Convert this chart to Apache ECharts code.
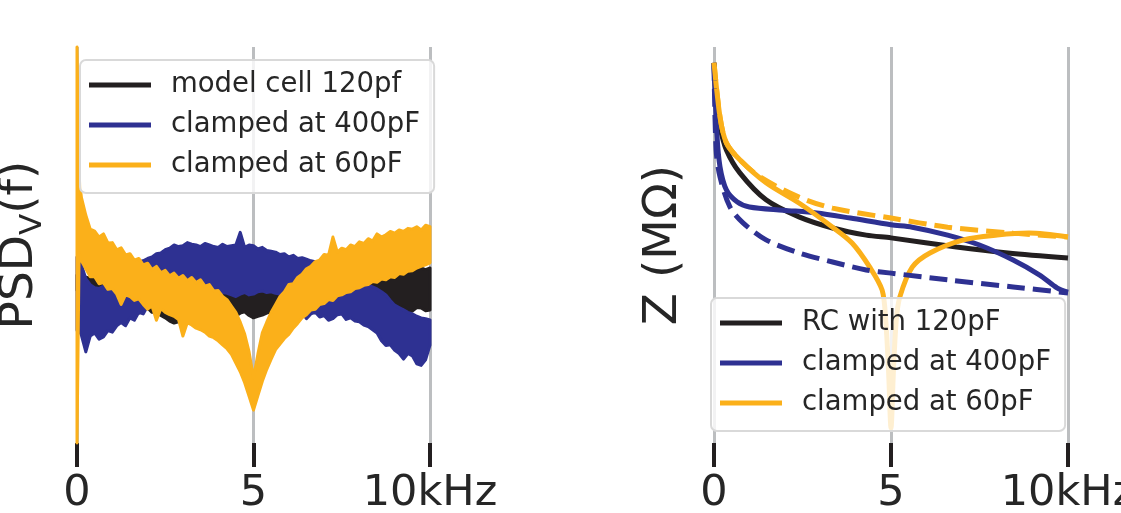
<!DOCTYPE html>
<html>
<head>
<meta charset="utf-8">
<script src="https://cdn.jsdelivr.net/npm/echarts@6/dist/echarts.min.js"></script>
<style>
  html, body { margin: 0; padding: 0; background: #fff; }
  #main { width: 1121px; height: 513px; }
</style>
</head>
<body>
<div id="main"></div>
<script>
// left panel: PSD bands, upper / lower edge of each noisy trace (arbitrary units)
var freqs = [0, 0.06, 0.125, 0.25, 0.375, 0.5, 0.625, 0.75, 0.875, 1.0,
             1.125, 1.25, 1.375, 1.5, 1.625, 1.75, 1.875, 2.0, 2.125, 2.25,
             2.375, 2.5, 2.625, 2.75, 2.875, 3.0, 3.125, 3.25, 3.375, 3.5,
             3.625, 3.75, 3.875, 4.0, 4.125, 4.25, 4.375, 4.5, 4.625, 4.75,
             4.875, 5.0, 5.125, 5.25, 5.375, 5.5, 5.625, 5.75, 5.875, 6.0,
             6.125, 6.25, 6.375, 6.5, 6.625, 6.75, 6.875, 7.0, 7.125, 7.25,
             7.375, 7.5, 7.625, 7.75, 7.875, 8.0, 8.125, 8.25, 8.375, 8.5,
             8.625, 8.75, 8.875, 9.0, 9.125, 9.25, 9.375, 9.5, 9.625, 9.75,
             9.875, 10.0];

var modelHi = [42.4, 42.4, 42.2, 41.9, 41.6, 41.2, 41.0, 40.7, 40.4, 40.2,
               40.0, 39.9, 39.6, 39.4, 39.6, 39.6, 39.2, 39.1, 39.4, 39.4,
               39.0, 38.9, 39.2, 39.1, 38.8, 38.6, 39.0, 38.9, 38.6, 38.6,
               38.5, 38.4, 38.6, 38.6, 38.4, 38.4, 38.2, 38.1, 38.4, 38.4,
               38.2, 38.1, 38.4, 38.4, 38.5, 38.6, 38.6, 38.6, 38.8, 38.9,
               39.0, 39.1, 39.0, 39.1, 39.4, 39.4, 39.4, 39.6, 39.8, 39.9,
               40.0, 40.2, 40.6, 40.4, 41.2, 40.9, 41.0, 41.2, 42.0, 41.9,
               41.8, 42.2, 43.0, 42.7, 42.6, 43.2, 43.8, 43.4, 44.0, 44.2,
               43.8, 44.2];
var modelLo = [38.6, 38.8, 39.1, 39.9, 39.0, 38.1, 37.2, 36.6, 36.0, 35.6,
               35.2, 34.6, 34.0, 33.6, 32.8, 32.8, 33.8, 34.1, 33.0, 33.1,
               32.2, 31.6, 30.8, 30.3, 30.6, 31.1, 31.8, 32.3, 33.0, 33.6,
               34.0, 34.6, 34.2, 33.6, 33.0, 32.8, 32.6, 32.1, 32.8, 33.1,
               32.2, 31.6, 32.0, 32.3, 32.8, 33.1, 33.4, 33.6, 33.0, 33.1,
               33.6, 33.3, 32.6, 32.8, 33.4, 33.6, 33.0, 33.1, 34.0, 33.8,
               33.2, 33.3, 34.0, 34.1, 33.4, 33.6, 34.4, 34.3, 33.6, 33.8,
               34.6, 34.6, 33.8, 33.6, 34.4, 34.3, 33.4, 33.3, 34.2, 34.1,
               33.4, 33.6];

var c400Hi = [47.0, 47.0, 45.0, 41.5, 40.0, 39.2, 39.0, 39.6, 40.2, 41.2,
              42.0, 43.2, 43.6, 44.8, 45.0, 45.8, 46.0, 46.6, 47.0, 47.8,
              48.0, 48.8, 49.2, 50.0, 49.6, 49.8, 50.6, 50.2, 50.0, 49.6,
              50.4, 50.0, 49.6, 49.4, 50.2, 49.6, 49.8, 50.0, 53.2, 49.4,
              50.0, 49.8, 49.0, 49.4, 48.6, 48.4, 48.2, 47.6, 47.8, 47.0,
              47.4, 46.6, 46.8, 46.4, 46.0, 45.8, 45.0, 44.8, 44.2, 43.8,
              43.2, 42.8, 42.4, 41.8, 41.4, 40.8, 40.4, 39.9, 39.4, 38.9,
              38.2, 37.4, 36.0, 34.8, 34.2, 33.6, 33.0, 32.6, 32.0, 31.6,
              31.4, 31.1];
var c400Lo = [28.5, 28.5, 27.2, 23.0, 27.0, 27.8, 26.2, 26.8, 28.4, 28.0,
              29.6, 30.4, 29.6, 31.6, 31.0, 33.0, 32.6, 34.6, 34.4, 36.4,
              36.6, 37.8, 37.6, 38.0, 38.2, 38.0, 38.4, 38.2, 38.4, 37.8,
              38.2, 38.0, 38.2, 37.6, 38.0, 37.8, 37.4, 37.0, 37.6, 38.0,
              37.4, 37.6, 38.2, 38.4, 38.0, 38.2, 37.8, 37.6, 37.2, 36.4,
              35.8, 34.6, 33.0, 31.4, 32.6, 33.0, 31.8, 32.2, 31.0, 31.4,
              32.4, 32.6, 31.2, 31.6, 30.8, 30.6, 29.8, 29.4, 28.6, 27.8,
              25.8, 24.6, 24.8, 23.4, 22.6, 21.2, 22.6, 22.0, 20.0, 19.6,
              21.0, 24.7];

var c60Hi = [100, 67.0, 62.0, 57.5, 54.0, 53.5, 52.0, 52.8, 50.5, 50.6,
             48.8, 49.3, 47.5, 47.8, 46.2, 46.6, 45.0, 45.4, 43.8, 44.6,
             43.0, 43.6, 42.2, 42.9, 41.6, 42.3, 41.0, 41.8, 40.5, 41.2,
             39.6, 40.0, 38.4, 38.5, 37.0, 36.2, 34.6, 33.0, 30.5, 27.5,
             23.0, 16.5, 22.5, 27.8, 30.5, 33.0, 35.0, 37.0, 38.2, 40.0,
             40.2, 41.8, 42.6, 44.0, 44.6, 45.8, 46.2, 47.6, 47.4, 52.0,
             48.2, 49.2, 48.8, 50.0, 49.6, 50.8, 50.4, 51.6, 51.0, 52.8,
             52.0, 52.6, 53.4, 53.0, 53.8, 53.4, 54.2, 54.0, 54.6, 53.8,
             55.0, 54.6];
var c60Lo = [0, 48.0, 46.0, 44.0, 42.0, 42.0, 40.2, 40.5, 38.8, 39.0,
             37.6, 35.0, 37.4, 37.0, 36.0, 36.4, 35.0, 33.8, 34.6, 31.0,
             34.0, 33.0, 32.4, 32.0, 31.2, 27.0, 30.4, 29.8, 29.0, 28.6,
             28.0, 27.0, 26.6, 25.8, 24.8, 23.8, 22.4, 20.2, 18.0, 15.2,
             11.8, 8.3, 12.0, 15.6, 18.6, 21.2, 23.6, 25.0, 26.4, 27.4,
             29.0, 30.2, 31.6, 32.4, 33.6, 33.8, 35.0, 35.2, 36.2, 36.0,
             37.2, 37.4, 38.0, 38.2, 39.0, 39.2, 39.8, 40.0, 40.8, 40.6,
             41.4, 41.2, 42.0, 41.8, 42.8, 42.6, 43.4, 43.5, 44.2, 44.6,
             45.0, 45.5];

// right panel: impedance curves [kHz, value]
var zRC120 = [[0, 96.0], [0.06, 86.6], [0.17, 79.8], [0.35, 74.0], [0.73, 68.2], [1.47, 61.4], [2.4, 57.1], [3.35, 54.3],
              [4.3, 52.5], [5, 51.8], [6.85, 49.5], [8.3, 48.0], [10, 46.7]];
var z400 = [[0, 96.0], [0.08, 78.3], [0.17, 69.7], [0.35, 63.9], [0.65, 60.9], [1.0, 59.6], [1.95, 58.8], [2.9, 58.1],
            [3.85, 56.8], [5, 55.1], [5.6, 54.5], [6.6, 52.5], [7.5, 50.0], [8.45, 46.2], [9.2, 42.4], [9.7, 39.1], [10, 38.1]];
var z400rc = [[0, 96.0], [0.06, 74.0], [0.17, 67.2], [0.45, 59.6], [0.82, 55.6], [1.47, 51.3], [2.4, 48.0], [3.35, 45.7],
              [4.3, 43.7], [5, 42.9], [6.6, 41.2], [8.45, 39.4], [10, 37.9]];
var z60 = [[0, 96.0], [0.17, 82.3], [0.35, 75.8], [0.73, 71.5], [1.47, 65.7], [2.4, 60.6], [3.35, 54.5], [3.9, 50.5],
           [4.4, 44.4], [4.75, 38.6], [4.85, 31.1], [4.93, 18.5], [5.0, 3.8], [5.07, 18.5], [5.15, 31.1], [5.25, 36.9],
           [5.6, 44.4], [6.1, 48.0], [7.05, 51.3], [8, 52.5], [8.9, 53.0], [10, 52.0]];
var z60rc = [[0, 96.0], [0.17, 82.3], [0.35, 75.8], [0.73, 71.5], [1.3, 67.2], [2.4, 62.1], [3.35, 59.3], [5, 56.8],
             [6.6, 54.5], [8.45, 53.0], [10, 52.0]];

var tickLabels = {0: '0', 5: '5', 10: '10kHz'};

var BLACK = '#231f20', BLUE = '#2e3192', ORANGE = '#fbb01a', GRIDC = '#bcbec0', TEXT = '#262626';
var FONT = 'DejaVu Sans';

function band(hi, lo, color) {
  return function (params, api) {
    var pts = [];
    for (var i = 0; i < freqs.length; i++) pts.push(api.coord([freqs[i], hi[i]]));
    for (var j = freqs.length - 1; j >= 0; j--) pts.push(api.coord([freqs[j], lo[j]]));
    return {
      type: 'polygon',
      shape: { points: pts },
      style: { fill: color, stroke: color, lineWidth: 3, lineJoin: 'round' }
    };
  };
}

function xAxisFor(gi) {
  return {
    type: 'value', gridIndex: gi, min: 0, max: 10, interval: 5, position: 'bottom',
    axisLine: { show: false },
    axisTick: { show: true, inside: false, length: 24, lineStyle: { color: BLACK, width: 4 } },
    splitLine: { show: true, lineStyle: { color: GRIDC, width: 3 } },
    axisLabel: { margin: 29, fontSize: 43, fontFamily: FONT, color: TEXT,
                 formatter: function (v) { return tickLabels[v]; } }
  };
}

function yAxisFor(gi, name, gap) {
  return {
    type: 'value', gridIndex: gi, min: 0, max: 100,
    axisLine: { show: false }, axisTick: { show: false }, axisLabel: { show: false },
    splitLine: { show: false },
    name: name, nameLocation: 'middle', nameGap: gap, nameRotate: 90,
    nameTextStyle: {
      fontSize: 47, fontFamily: FONT, color: TEXT,
      rich: {
        a: { fontSize: 47, fontFamily: FONT, color: TEXT, lineHeight: 56, verticalAlign: 'middle' },
        b: { fontSize: 31, fontFamily: FONT, color: TEXT, lineHeight: 34, verticalAlign: 'bottom' }
      }
    }
  };
}

function legendFor(left, top, items) {
  return {
    orient: 'vertical', left: left, top: top,
    padding: [5, 14, 8, 9], itemGap: 0,
    itemWidth: 62, itemHeight: 5, icon: 'rect',
    backgroundColor: 'rgba(255,255,255,0.8)', borderColor: '#d9d9d9', borderWidth: 2, borderRadius: 6,
    itemStyle: { borderWidth: 0 },
    textStyle: { fontSize: 27.5, fontFamily: FONT, color: TEXT, lineHeight: 40, padding: [0, 0, 0, 15] },
    data: items.map(function (it) { return { name: it[0], itemStyle: { color: it[1] } }; })
  };
}

function zLine(name, data, color, dashed) {
  return {
    type: 'line', name: name, xAxisIndex: 1, yAxisIndex: 1, data: data,
    showSymbol: false, smooth: 0.3, color: color,
    lineStyle: { color: color, width: 5, type: dashed ? [18, 8] : 'solid', cap: 'butt' }
  };
}

var chart = echarts.init(document.getElementById('main'));
chart.setOption({
  animation: false,
  grid: [
    { left: 77, top: 47, width: 353, height: 396, containLabel: false, outerBoundsMode: 'none' },
    { left: 714, top: 47, width: 354, height: 396, containLabel: false, outerBoundsMode: 'none' }
  ],
  xAxis: [xAxisFor(0), xAxisFor(1)],
  yAxis: [yAxisFor(0, '{a|PSD}{b|V}{a|(f)}', 29), yAxisFor(1, 'Z (MΩ)', 27)],
  legend: [
    legendFor(80, 60, [['model cell 120pf', BLACK], ['clamped at 400pF', BLUE], ['clamped at 60pF', ORANGE]]),
    legendFor(711, 298, [['RC with 120pF', BLACK], ['clamped at 400pF', BLUE], ['clamped at 60pF', ORANGE]])
  ],
  series: [
    { type: 'custom', name: 'model cell 120pf', xAxisIndex: 0, yAxisIndex: 0, data: [[0, 0]],
      itemStyle: { color: BLACK }, renderItem: band(modelHi, modelLo, BLACK) },
    { type: 'custom', name: 'clamped at 400pF', xAxisIndex: 0, yAxisIndex: 0, data: [[0, 0]],
      itemStyle: { color: BLUE }, renderItem: band(c400Hi, c400Lo, BLUE) },
    { type: 'custom', name: 'clamped at 60pF', xAxisIndex: 0, yAxisIndex: 0, data: [[0, 0]],
      itemStyle: { color: ORANGE }, renderItem: band(c60Hi, c60Lo, ORANGE) },
    zLine('RC with 120pF', zRC120, BLACK, false),
    zLine('clamped at 400pF', z400, BLUE, false),
    zLine('clamped at 60pF', z60, ORANGE, false),
    zLine('RC with 400pF', z400rc, BLUE, true),
    zLine('RC with 60pF', z60rc, ORANGE, true)
  ]
});
</script>
</body>
</html>
